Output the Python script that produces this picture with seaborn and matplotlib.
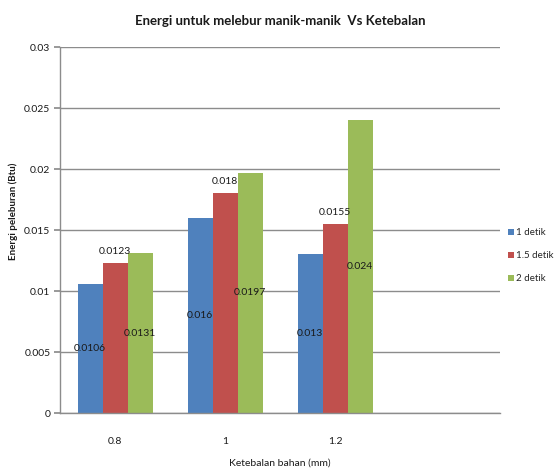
import matplotlib
matplotlib.use("Agg")
import matplotlib.pyplot as plt
import seaborn as sns
import pandas as pd

# Thickness categories (mm) and energy per melting duration (Btu)
thickness = ["0.8", "1", "1.2"]
durations = ["1 detik", "1.5 detik", "2 detik"]
energy_1s = [0.0106, 0.016, 0.013]
energy_15s = [0.0123, 0.018, 0.0155]
energy_2s = [0.0131, 0.0197, 0.024]
y_ticks = [0, 0.005, 0.01, 0.015, 0.02, 0.025, 0.03]
y_tick_labels = ["0", "0.005", "0.01", "0.015", "0.02", "0.025", "0.03"]

series = {durations[0]: energy_1s, durations[1]: energy_15s, durations[2]: energy_2s}
rows = []
for dur, vals in series.items():
    for t, v in zip(thickness, vals):
        rows.append({"thickness": t, "duration": dur, "energy": v})
df = pd.DataFrame(rows)

sns.set_theme(style="white")
plt.rcParams["font.family"] = ["Lato", "DejaVu Sans"]

colors = ["#4F81BD", "#C0504D", "#9BBB59"]
grid_color = "#8C8C8C"
text_color = "#1A1A1A"

fig = plt.figure(figsize=(5.57, 4.68), dpi=100)
ax = fig.add_axes([0.108, 0.1175, 0.79, 0.782])

sns.barplot(data=df, x="thickness", y="energy", hue="duration", order=thickness,
            hue_order=durations, palette=colors, width=0.68, saturation=1,
            edgecolor="none", linewidth=0, ax=ax, legend=True)

ax.set_xlim(-0.5, 3.5)
ax.set_ylim(0, 0.03)
ax.set_yticks(y_ticks)
ax.set_yticklabels(y_tick_labels)
ax.yaxis.grid(True, color=grid_color, linewidth=1.0)
ax.set_axisbelow(True)

for side in ["top", "right"]:
    ax.spines[side].set_visible(False)
for side in ["left", "bottom"]:
    ax.spines[side].set_color(grid_color)
    ax.spines[side].set_linewidth(1.0)

ax.tick_params(axis="y", which="both", left=True, length=4, color=grid_color,
               labelsize=7.5, pad=3, labelcolor=text_color)
ax.tick_params(axis="x", which="both", bottom=False, labelsize=7.5, pad=11,
               labelcolor=text_color)

# value labels: middle of the bar for 1 and 2 detik, above the bar for 1.5 detik
for i, (cont, vals) in enumerate(zip(ax.containers, [energy_1s, energy_15s, energy_2s])):
    labels = [f"{v:g}" for v in vals]
    if i == 1:
        ax.bar_label(cont, labels=labels, label_type="edge", padding=5,
                     fontsize=7.5, color=text_color)
    else:
        ax.bar_label(cont, labels=labels, label_type="center",
                     fontsize=7.5, color=text_color)

ax.set_xlabel("Ketebalan bahan (mm)", fontsize=7.5, color=text_color, labelpad=9)
ax.set_ylabel("Energi peleburan (Btu)", fontsize=7, fontweight="bold",
              color=text_color)
ax.yaxis.set_label_coords(-0.095, 0.55)
ax.set_title("Energi untuk melebur manik-manik  Vs Ketebalan", fontsize=9.5,
             fontweight="bold", color=text_color, pad=16)

leg = ax.legend(loc="center left", bbox_to_anchor=(1.01, 0.43), frameon=False,
                fontsize=7, handlelength=0.55, handleheight=0.55,
                handletextpad=0.2, labelspacing=1.45, borderaxespad=0)

fig.savefig("out.png", dpi=100)
